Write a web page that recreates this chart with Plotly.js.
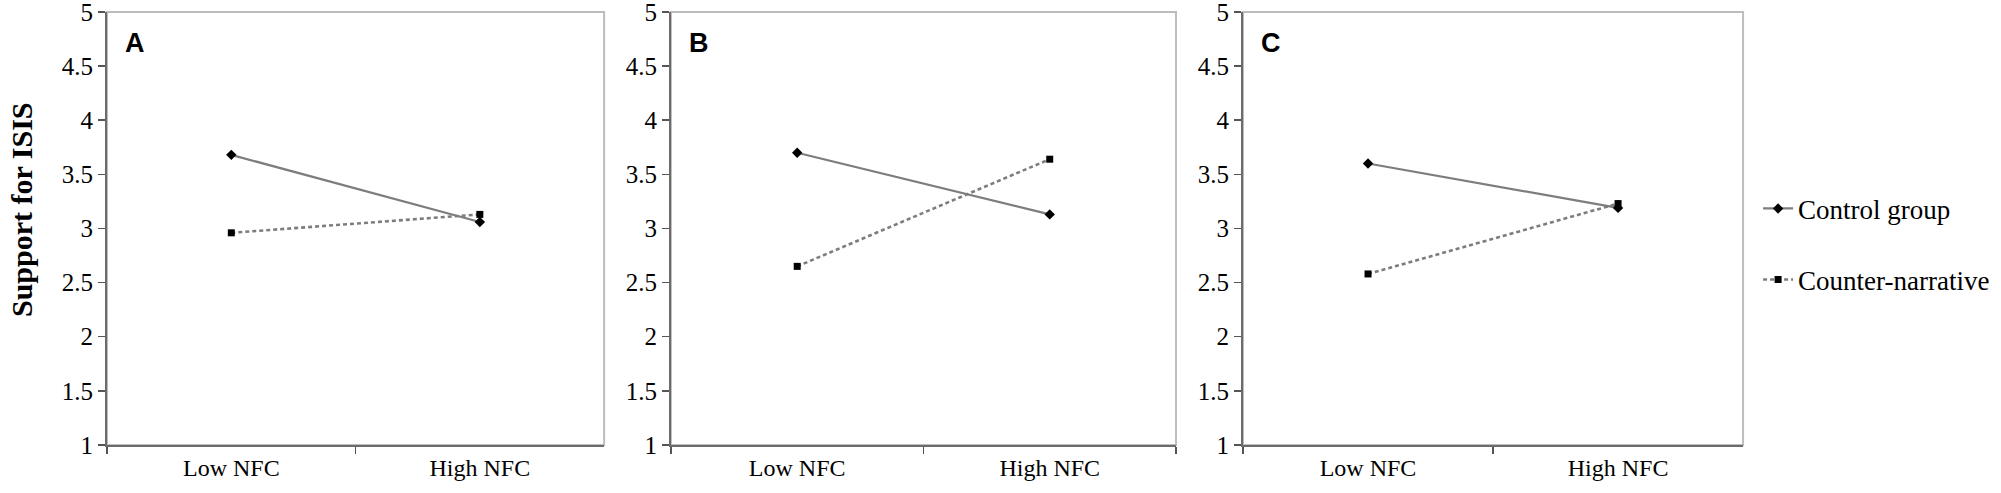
<!DOCTYPE html>
<html>
<head>
<meta charset="utf-8">
<script src="https://cdn.plot.ly/plotly-3.0.1.min.js"></script>
<style>
  body { margin: 0; background: white; }
  #nfcPlot { width: 2001px; height: 493px; }
</style>
</head>
<body>
<div id="nfcPlot"></div>
<script>
// categories on the x axis
var nfcLevels = ['Low NFC', 'High NFC'];
var panelLetters = ['A', 'B', 'C'];
var seriesNames = ['Control group', 'Counter-narrative'];

// mean support for ISIS, one pair per panel
var controlA = [3.68, 3.06];
var counterA = [2.96, 3.13];
var controlB = [3.70, 3.13];
var counterB = [2.65, 3.64];
var controlC = [3.60, 3.19];
var counterC = [2.58, 3.23];

var yTicks = [1, 1.5, 2, 2.5, 3, 3.5, 4, 4.5, 5];

var controlSets = [controlA, controlB, controlC];
var counterSets = [counterA, counterB, counterC];

// panel positions in paper fraction
var xDomains = [[0.0535, 0.3019], [0.3353, 0.5877], [0.6212, 0.8711]];
var yDomain = [0.0974, 0.9757];

var serif = 'Liberation Serif, Times New Roman, serif';

/**
 * two traces (control + counter) for one panel
 */
function panelTraces(i)
{
  var suffix = i === 0 ? '' : String(i + 1);
  var control = {
    x: nfcLevels,
    y: controlSets[i],
    name: seriesNames[0],
    legendgroup: 'ctrl',
    showlegend: i === 0,
    xaxis: 'x' + suffix,
    yaxis: 'y' + suffix,
    type: 'scatter',
    mode: 'lines+markers',
    line: { color: '#7d7d7d', width: 2.2 },
    marker: { symbol: 'diamond', size: 8, color: 'black' }
  };
  var counter = {
    x: nfcLevels,
    y: counterSets[i],
    name: seriesNames[1],
    legendgroup: 'cn',
    showlegend: i === 0,
    xaxis: 'x' + suffix,
    yaxis: 'y' + suffix,
    type: 'scatter',
    mode: 'lines+markers',
    line: { color: '#7d7d7d', width: 2.6, dash: '4px,3px' },
    marker: { symbol: 'square', size: 7, color: 'black' }
  };
  return [control, counter];
}

var data = [];
var layout = {
  width: 2001,
  height: 493,
  paper_bgcolor: 'white',
  plot_bgcolor: 'white',
  margin: { t: 0, r: 0, b: 0, l: 0 },
  font: { family: serif, color: 'black', size: 25 },
  showlegend: true,
  legend: {
    x: 0.8786,
    y: 0.626,
    xanchor: 'left',
    yanchor: 'top',
    traceorder: 'grouped',
    tracegroupgap: 33,
    font: { family: serif, size: 27, color: 'black' },
    bgcolor: 'rgba(0,0,0,0)'
  },
  shapes: [],
  annotations: []
};

panelLetters.forEach(function(letter, i) {
  data = data.concat(panelTraces(i));
  var suffix = i === 0 ? '' : String(i + 1);

  layout['xaxis' + suffix] = {
    domain: xDomains[i],
    anchor: 'y' + suffix,
    type: 'category',
    range: [-0.5, 1.5],
    tickson: 'boundaries',
    ticks: 'outside',
    ticklen: 7,
    tickwidth: 1.5,
    tickcolor: '#555',
    tickfont: { family: serif, size: 24, color: 'black' },
    showline: true,
    linecolor: '#6b6b6b',
    linewidth: 2,
    showgrid: false,
    zeroline: false,
    fixedrange: true,
    automargin: false
  };
  layout['yaxis' + suffix] = {
    domain: yDomain,
    anchor: 'x' + suffix,
    range: [1, 5],
    tickvals: yTicks,
    ticks: 'outside',
    ticklen: 7,
    tickwidth: 1.5,
    tickcolor: '#555',
    tickfont: { family: serif, size: 25, color: 'black' },
    ticklabeloverflow: 'allow',
    showline: true,
    linecolor: '#6b6b6b',
    linewidth: 2,
    showgrid: false,
    zeroline: false,
    fixedrange: true,
    automargin: false
  };

  // light border round each panel
  layout.shapes.push({
    type: 'rect',
    xref: 'x' + suffix + ' domain',
    yref: 'y' + suffix + ' domain',
    x0: 0, x1: 1, y0: 0, y1: 1,
    line: { color: '#bdbdbd', width: 2 },
    layer: 'below'
  });

  layout.annotations.push({
    text: '<b>' + letter + '</b>',
    xref: 'x' + suffix + ' domain',
    yref: 'y' + suffix + ' domain',
    x: 0.032,
    y: 0.928,
    xanchor: 'left',
    yanchor: 'middle',
    showarrow: false,
    font: { family: 'Liberation Sans, Arial, sans-serif', size: 27, color: 'black' }
  });
});

// y axis title, only once at the far left
layout.annotations.push({
  text: '<b>Support for ISIS</b>',
  xref: 'paper',
  yref: 'paper',
  x: 0.0105,
  y: 0.574,
  xanchor: 'center',
  yanchor: 'middle',
  textangle: -90,
  showarrow: false,
  font: { family: serif, size: 30, color: 'black' }
});

Plotly.newPlot('nfcPlot', data, layout, { displayModeBar: false, staticPlot: true });
</script>
</body>
</html>
